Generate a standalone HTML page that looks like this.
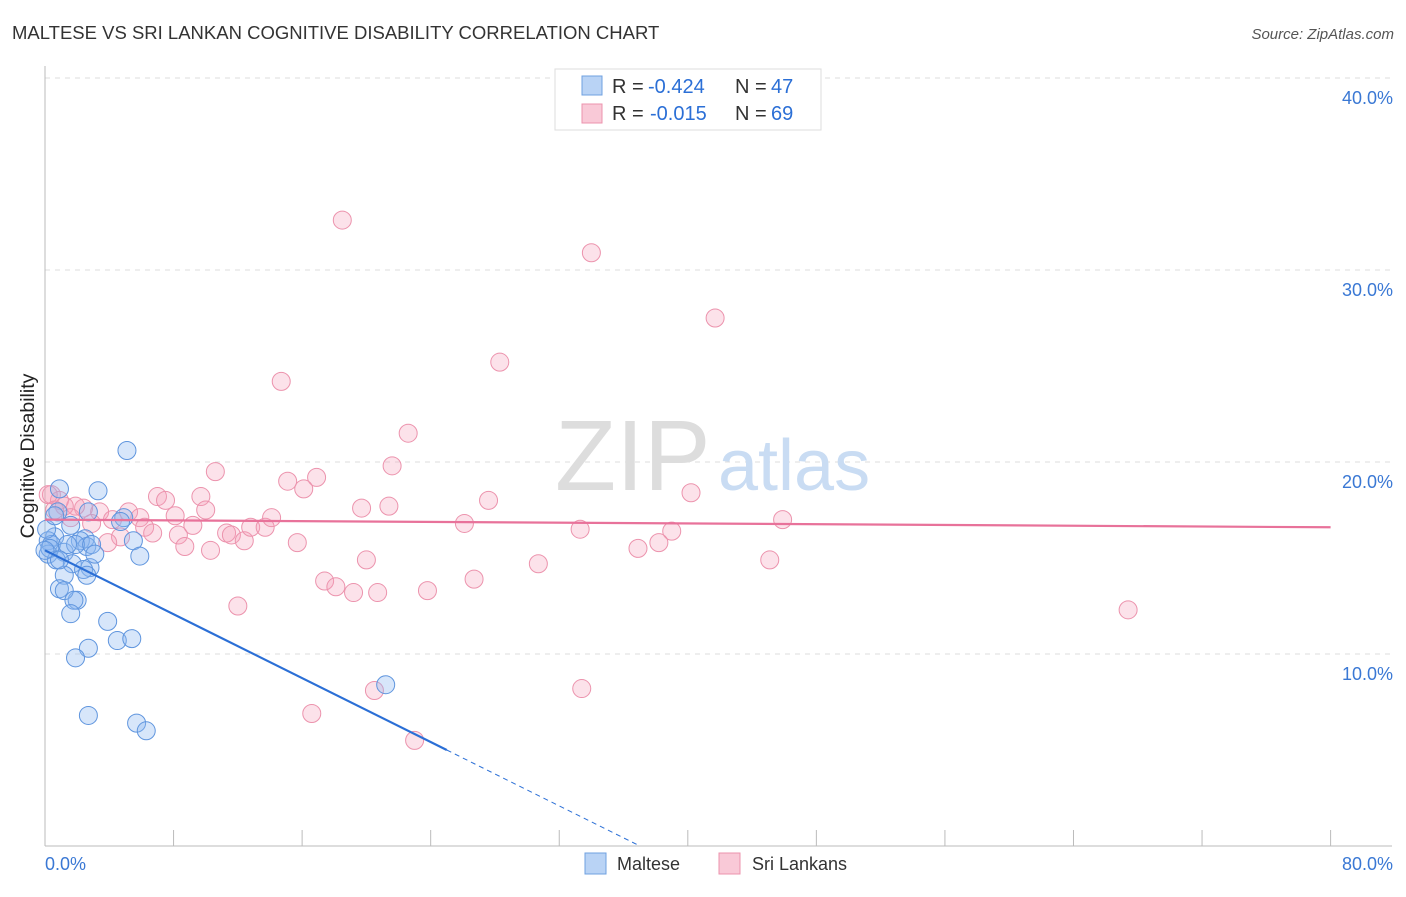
<!DOCTYPE html>
<html><head><meta charset="utf-8"><style>
body{margin:0;background:#fff;font-family:"Liberation Sans",sans-serif;}
svg text{font-family:"Liberation Sans",sans-serif;}
</style></head><body>
<svg id="chart" width="1406" height="892">
<text x="12" y="39" font-size="18.5" fill="#333">MALTESE VS SRI LANKAN COGNITIVE DISABILITY CORRELATION CHART</text>
<text x="1394" y="39" font-size="15" fill="#555" font-style="italic" text-anchor="end">Source: ZipAtlas.com</text>
<text x="0" y="0" transform="translate(34,456) rotate(-90)" font-size="19.5" fill="#222" text-anchor="middle">Cognitive Disability</text>
<g id="grid"></g>
<g id="axes"></g>
<text x="555" y="490" font-size="100" fill="#ddd" font-family="Liberation Serif">ZIP</text>
<text x="718" y="490" font-size="72" fill="#c9dcf3">atlas</text>
<g id="pinkPts"></g>
<g id="bluePts"></g>
<g id="lines"></g>
<g>
<rect x="555" y="69" width="266" height="61" fill="#fff" stroke="#ddd"/>
<rect x="582" y="76" width="20" height="19" fill="#b9d3f5" stroke="#6fa0e0"/>
<rect x="582" y="104" width="20" height="19" fill="#f9c9d7" stroke="#ec93ad"/>
<text x="612" y="93" font-size="20" fill="#333">R =</text>
<text x="648" y="93" font-size="20" fill="#2b6fd6">-0.424</text>
<text x="735" y="93" font-size="20" fill="#333">N =</text>
<text x="771" y="93" font-size="20" fill="#2b6fd6">47</text>
<text x="612" y="120" font-size="20" fill="#333">R =</text>
<text x="650" y="120" font-size="20" fill="#2b6fd6">-0.015</text>
<text x="735" y="120" font-size="20" fill="#333">N =</text>
<text x="771" y="120" font-size="20" fill="#2b6fd6">69</text>
</g>
<g>
<rect x="585" y="853" width="21" height="21" fill="#b9d3f5" stroke="#6fa0e0"/>
<text x="617" y="870" font-size="18" fill="#333">Maltese</text>
<rect x="719" y="853" width="21" height="21" fill="#f9c9d7" stroke="#ec93ad"/>
<text x="752" y="870" font-size="18" fill="#333">Sri Lankans</text>
</g>
</svg>
<script>
const blueX=[5.1,0.9,3.3,2.7,0.8,4.9,1.6,0.6,0.2,0.4,2.5,2.2,5.5,2.6,1.2,0.2,0.7,5.9,1.7,2.8,2.4,1.2,2.6,2.0,0.9,1.2,1.8,1.6,3.9,4.5,5.4,2.7,1.9,2.7,5.7,6.3,21.2,0.3,0.1,0.6,1.9,2.9,1.4,0.9,3.1,4.7,0.0];
const blueY=[20.6,18.6,18.5,17.4,17.4,17.1,16.7,16.1,15.9,15.7,16.0,15.9,15.9,15.6,15.3,15.2,14.9,15.1,14.7,14.5,14.4,14.1,14.1,12.8,13.4,13.3,12.8,12.1,11.7,10.7,10.8,10.3,9.8,6.8,6.4,6.0,8.4,15.5,16.5,17.2,15.7,15.7,15.7,14.9,15.2,16.9,15.4];
const pinkX=[18.5,34.0,41.7,14.7,28.3,22.6,10.6,21.6,16.9,15.1,27.6,40.2,7.0,7.5,9.7,16.1,19.7,21.4,10.0,8.1,5.2,2.4,1.9,3.4,0.4,0.9,1.2,1.6,2.9,4.2,5.9,6.2,4.7,3.9,6.7,8.3,9.2,11.3,11.6,12.4,12.8,13.7,14.1,15.7,8.7,10.3,26.1,33.3,39.0,38.2,36.9,45.9,45.1,20.0,30.7,26.7,17.4,18.1,19.2,20.7,23.8,12.0,16.6,20.5,23.0,33.4,67.4,0.2,0.6];
const pinkY=[32.6,30.9,27.5,24.2,25.2,21.5,19.5,19.8,19.2,19.0,18.0,18.4,18.2,18.0,18.2,18.6,17.6,17.7,17.5,17.2,17.4,17.6,17.7,17.4,18.3,18.0,17.7,17.1,16.8,17.0,17.1,16.6,16.1,15.8,16.3,16.2,16.7,16.3,16.2,15.9,16.6,16.6,17.1,15.8,15.6,15.4,16.8,16.5,16.4,15.8,15.5,17.0,14.9,14.9,14.7,13.9,13.8,13.5,13.2,13.2,13.3,12.5,6.9,8.1,5.5,8.2,12.3,18.3,17.5];
const yTicks=[10,20,30,40];
const xTickLabels=["0.0%","80.0%"];
const blueFit=[15.4,-0.416];
const pinkFit=[17.0,-0.005];
const X=v=>45+v*16.07, Y=v=>846-v*19.2;
const NS="http://www.w3.org/2000/svg";
function mk(t,a,p){const e=document.createElementNS(NS,t);for(const k in a)e.setAttribute(k,a[k]);p.appendChild(e);return e;}
const grid=document.getElementById('grid'),axes=document.getElementById('axes');
yTicks.forEach(t=>{
 const l=mk('line',{x1:45,x2:1392,y1:Y(t),y2:Y(t),stroke:'#ddd','stroke-dasharray':'5,5'},grid);
 
 
 const tx=mk('text',{x:1393,y:Y(t)+26,'font-size':18,fill:'#3a78d4','text-anchor':'end'},grid);
 tx.textContent=t.toFixed(1)+'%';
 
 
});
mk('line',{x1:45,x2:45,y1:66,y2:846,stroke:'#bbb'},axes);
mk('line',{x1:45,x2:1392,y1:846,y2:846,stroke:'#bbb'},axes);
for(let i=0;i<=10;i++){const tk=mk('line',{x1:X(i*8),x2:X(i*8),y1:830,y2:846,stroke:'#bbb'},axes);
 
 }
const t0=mk('text',{x:45,y:870,'font-size':18,fill:'#3a78d4'},axes);t0.textContent=xTickLabels[0];


const t1=mk('text',{x:1393,y:870,'font-size':18,fill:'#3a78d4','text-anchor':'end'},axes);t1.textContent=xTickLabels[1];


const pg=document.getElementById('pinkPts');
pinkX.forEach((x,i)=>{const c=mk('circle',{cx:X(x),cy:Y(pinkY[i]),r:9,fill:'rgba(244,160,186,0.3)',stroke:'#ec93ad','stroke-width':1},pg);
 
 });
const bg=document.getElementById('bluePts');
blueX.forEach((x,i)=>{const c=mk('circle',{cx:X(x),cy:Y(blueY[i]),r:9,fill:'rgba(140,182,240,0.35)',stroke:'#5f95de','stroke-width':1},bg);
 
 });
const lg=document.getElementById('lines');
const pl=mk('line',{x1:X(0),y1:Y(pinkFit[0]),x2:X(80),y2:Y(pinkFit[0]+pinkFit[1]*80),stroke:'#e8729a','stroke-width':2.2},lg);


const bl=mk('line',{x1:X(0),y1:Y(blueFit[0]),x2:X(25),y2:Y(blueFit[0]+blueFit[1]*25),stroke:'#2b6fd6','stroke-width':2.2},lg);


const xe=-blueFit[0]/blueFit[1];
const bd=mk('line',{x1:X(25),y1:Y(blueFit[0]+blueFit[1]*25),x2:X(xe),y2:Y(0),stroke:'#2b6fd6','stroke-width':1,'stroke-dasharray':'5,4'},lg);


</script>
</body></html>
